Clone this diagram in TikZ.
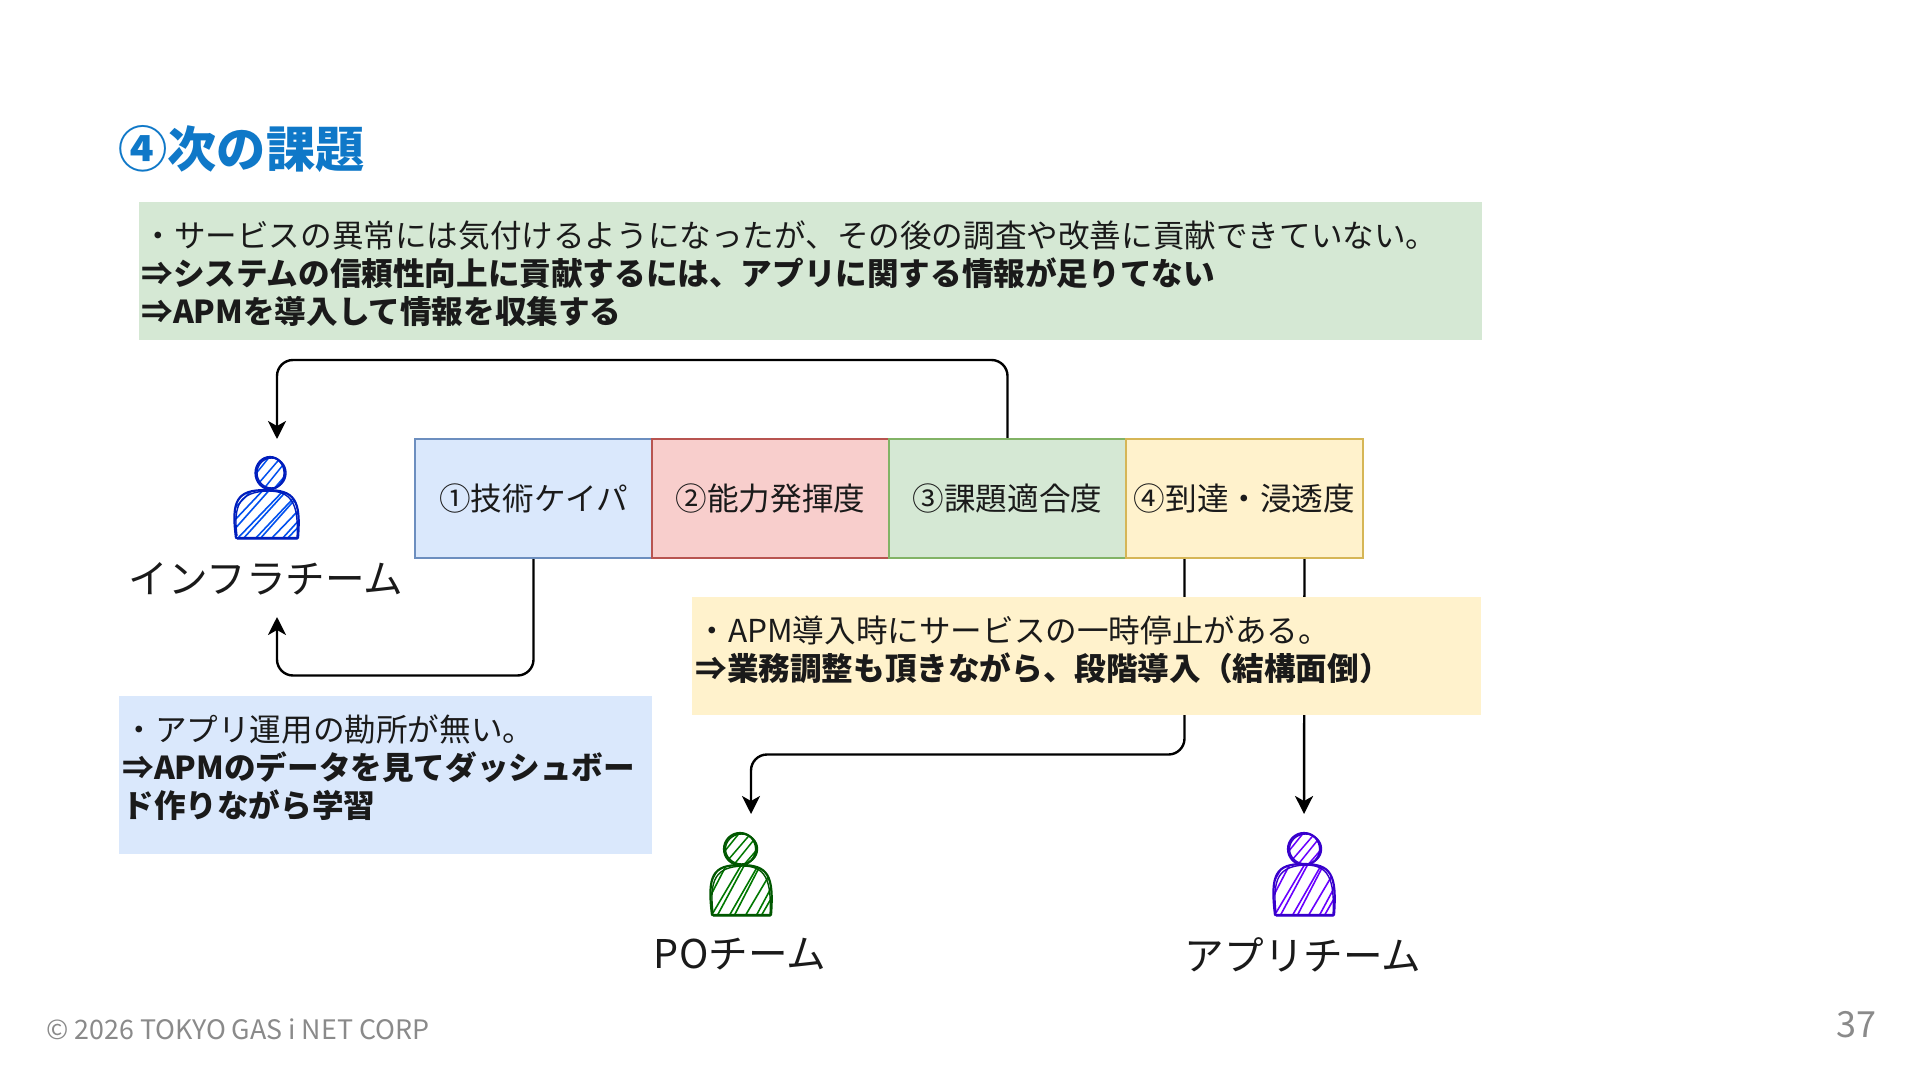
\documentclass[tikz,border=0pt]{standalone}
\usepackage{fontspec}
\setmainfont{Noto Sans CJK JP}
\usetikzlibrary{arrows.meta}
\definecolor{ink}{HTML}{1A1A1A}
\definecolor{titleblue}{HTML}{0F78C8}
\definecolor{foot}{HTML}{8A8A8A}
\definecolor{bluefill}{HTML}{DAE8FC}\definecolor{blueline}{HTML}{6C8EBF}
\definecolor{redfill}{HTML}{F8CECC}\definecolor{redline}{HTML}{B85450}
\definecolor{greenfill}{HTML}{D5E8D4}\definecolor{greenline}{HTML}{82B366}
\definecolor{yellowfill}{HTML}{FFF2CC}\definecolor{yellowline}{HTML}{D6B656}
\definecolor{infraO}{HTML}{001DBC}\definecolor{infraH}{HTML}{0050EF}
\definecolor{poO}{HTML}{005700}\definecolor{poH}{HTML}{007800}
\definecolor{appO}{HTML}{3700CC}\definecolor{appH}{HTML}{6A00FF}
\newcommand{\blocktext}[1]{\raisebox{-1pt}{#1}}
\tikzset{
  block/.style={draw,line width=1.1pt,minimum width=118.5pt,minimum height=59.5pt,inner sep=0pt,text=ink,font=\fontsize{15.8}{19}\selectfont},
  notebox/.style={rectangle,inner sep=0pt,anchor=north west},
  notetext/.style={anchor=north west,inner sep=0pt,align=left,text=ink,font=\fontsize{15.8}{19}\selectfont},
  teamlabel/.style={inner sep=0pt,text=ink,font=\fontsize{19.8}{22}\selectfont},
  flow/.style={draw=black,line width=1.2pt,rounded corners=8pt,-{Stealth[length=9pt,width=9pt,inset=2.5pt]}}
}
\newcommand{\sketchperson}[9]{%
  % name, head cx, head cy, left, right, top, bottom, outline, hatch
  \pgfmathsetmacro{\pL}{#4}\pgfmathsetmacro{\pR}{#5}\pgfmathsetmacro{\pT}{#6}\pgfmathsetmacro{\pB}{#7}
  \pgfmathsetmacro{\pM}{(\pL+\pR)/2}
  \node[inner sep=0pt,minimum width=32pt,minimum height=41pt] (#1) at (\pM,{(\pB+#3-16)/2}) {};
  \begin{scope}
    \clip (\pL+2,\pB) -- (\pR,\pB) .. controls (\pR+3,\pT+10) and (\pR-3,\pT) .. (\pM,\pT) .. controls (\pL+3,\pT) and (\pL-3,\pT+10) .. (\pL+2,\pB) -- cycle;
    \foreach \o/\j in {-62/2,-50/1,-41/-2,-30/2,-24/-1,-12/1,-7/-2,4/2,15/-1,20/1,32/-1,41/2,52/-1,62/1}
      \draw[#9,line width=0.8pt] (\pM+\o,\pB+2) -- (\pM+\o+\j+\hatchrun,\pB-52);
  \end{scope}
  \begin{scope}
    \clip (#2,#3) ellipse [x radius=\headrx,y radius=16];
    \foreach \o/\j in {-30/1,-20/-1,-10/1,0/-1,10/1,20/-1}
      \draw[#9,line width=0.75pt] (#2+\o-8,#3+18) -- (#2+\o+\j+22,#3-18);
  \end{scope}
  \draw[#8,line width=1.1pt] (#2,#3) ellipse [x radius=\headrx,y radius=16];
  \draw[#8,line width=0.7pt] (#2+1.5,#3) ellipse [x radius=\headrx,y radius=15];
  \draw[#8,line width=1.1pt,line join=round] (\pL+2,\pB) -- (\pR,\pB) .. controls (\pR+3,\pT+10) and (\pR-3,\pT) .. (\pM,\pT) .. controls (\pL+3,\pT) and (\pL-3,\pT+10) .. (\pL+2,\pB) -- cycle;
  \draw[#8,line width=0.7pt] (\pL+3,\pB-2) .. controls (\pL-1,\pT+14) and (\pL+6,\pT+2) .. (\pM+2,\pT+1) .. controls (\pR-6,\pT+1) and (\pR+1,\pT+14) .. (\pR-1,\pB+1) -- (\pL+3,\pB+1);
}
\begin{document}
\begin{tikzpicture}[x=0.5pt,y=-0.5pt]
\useasboundingbox[fill=white] (0,0) rectangle (1920,1080);

\node[anchor=west,inner sep=0pt,text=titleblue,font=\fontsize{24.6}{28}\selectfont\bfseries] (title) at (118,149) {④次の課題};

\node[notebox,fill=greenfill,minimum width=671.5pt,minimum height=69pt] (topbox) at (138.5,202) {};
\node[notetext] (toptext) at (141,220) {\hspace{0.5pt}・サービスの異常には気付けるようになったが、その後の調査や改善に貢献できていない。\\ \textbf{⇒システムの信頼性向上に貢献するには、アプリに関する情報が足りてない}\\ \textbf{⇒APMを導入して情報を収集する}};

\node[block,draw=blueline,fill=bluefill] (b1) at (533.5,498.5) {\blocktext{①技術ケイパ}};
\node[block,draw=redline,fill=redfill] (b2) at (770.5,498.5) {\blocktext{②能力発揮度}};
\node[block,draw=greenline,fill=greenfill] (b3) at (1007.5,498.5) {\blocktext{③課題適合度}};
\node[block,draw=yellowline,fill=yellowfill] (b4) at (1244.5,498.5) {\blocktext{④到達・浸透度}};

\coordinate (toinfra) at (277,439);
\coordinate (frominfra) at (277,617);
\coordinate (topo) at (751,814);
\coordinate (toapp) at (1304,814);

\draw[flow] (b3.north) |- (277,360) -- (toinfra);
\draw[flow] (b1.south) |- (277,675.5) -- (frominfra);
\draw[flow] ([xshift=-30pt]b4.south) |- (751,754.5) -- (topo);
\draw[flow] ([xshift=30pt]b4.south) -- (toapp);

\node[notebox,fill=yellowfill,minimum width=394.5pt,minimum height=59pt] (midbox) at (692,597) {};
\node[notetext] (midtext) at (695,615) {\hspace{0.5pt}・APM導入時にサービスの一時停止がある。\\ \textbf{⇒業務調整も頂きながら、段階導入（結構面倒）}};

\node[notebox,fill=bluefill,minimum width=266.5pt,minimum height=79pt] (leftbox) at (119,696) {};
\node[notetext] (lefttext) at (122,714) {\hspace{0.5pt}・アプリ運用の勘所が無い。\\ \textbf{⇒APMのデータを見てダッシュボー}\\ \textbf{ド作りながら学習}};

\def\headrx{14.5}\def\hatchrun{50}
\sketchperson{pinfra}{270}{473}{234}{298}{490}{538}{infraO}{infraH}
\def\headrx{16}\def\hatchrun{30}
\sketchperson{ppo}{740}{849}{710}{771}{865}{915}{poO}{poH}
\sketchperson{papp}{1304}{849}{1273}{1334}{864}{915}{appO}{appH}

\node[teamlabel] (linfra) at (266,579) {インフラチーム};
\node[teamlabel] (lpo) at (740,954.5) {POチーム};
\node[teamlabel] (lapp) at (1303,954.5) {アプリチーム};

\node[anchor=west,inner sep=0pt,text=foot,font=\fontsize{13.4}{15}\selectfont] (footer) at (46,1029) {© 2026 TOKYO GAS i NET CORP};
\node[anchor=east,inner sep=0pt,text=foot,font=\fontsize{18}{20}\selectfont] (pageno) at (1877,1025) {37};
\end{tikzpicture}
\end{document}
